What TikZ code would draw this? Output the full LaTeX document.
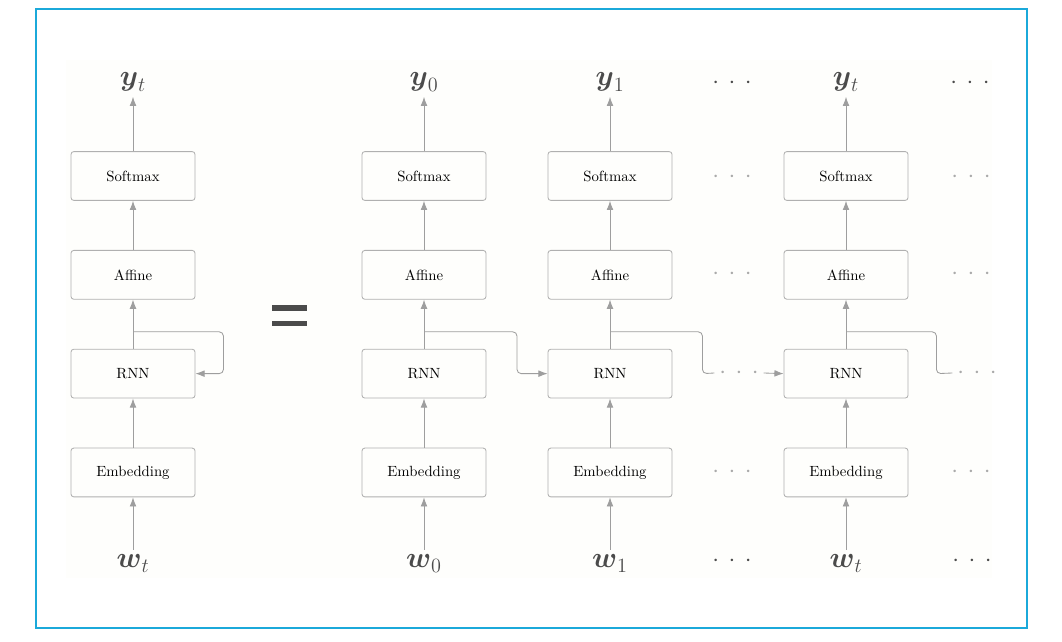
\documentclass[tikz,border=0pt]{standalone}
\usepackage{amsmath,amssymb}
\usepackage{tikz}
\usetikzlibrary{positioning}
\usetikzlibrary{calc}
\usetikzlibrary{arrows.meta}

\definecolor{framec}{RGB}{27,169,218}
\definecolor{linec}{RGB}{158,158,158}
\definecolor{boxc}{RGB}{176,176,176}
\definecolor{labc}{RGB}{75,75,75}
\definecolor{dimc}{RGB}{170,170,170}
\definecolor{bgc}{RGB}{254,254,252}

\newcommand{\gapdots}{$\cdot\hspace{3pt}\cdot\hspace{3pt}\cdot$}

\begin{document}
\begin{tikzpicture}[
    x=0.025cm, y=-0.025cm,  % pixel grid, y grows downwards
    node distance=2.47cm,   % box centre to box centre
    ]
% -------------------------------------------------
\tikzset{
  base/.style={on grid, align=center},
  blk/.style={base, rectangle, draw=boxc, line width=0.6pt, rounded corners=2pt,
              minimum width=3.1cm, minimum height=1.22cm,
              font=\fontsize{10.5}{12}\selectfont, text=black},
  lbl/.style={base, font=\huge, text=labc},
  darkdots/.style={font=\LARGE, text=labc},
  lightdots/.style={font=\LARGE, text=dimc},
  wire/.style={draw=linec, line width=0.6pt, rounded corners=3pt},
  line/.style={wire, -{Latex[length=6.5pt,width=4.8pt]}}
}
% -------------------------------------------------
% Frame and background
\useasboundingbox (0,0) rectangle (1062,642);
\fill [bgc] (66,60) rectangle (992,578);
\draw [framec, line width=1pt] (36,9) rectangle (1027,628);

% -------------------------------------------------
% Folded network

\node [blk] (softL) at (133,176) {Softmax};
\node [blk, below=of softL] (affL) {Affine};
\node [blk, below=of affL] (rnnL) {RNN};
\node [blk, below=of rnnL] (embL) {Embedding};
\node [lbl, above=2.35cm of softL] (yL) {$\boldsymbol{y}_t$};
\node [lbl, below=2.275cm of embL] (wL) {$\boldsymbol{w}_t$};

% equals sign
\fill [labc] (272,305) rectangle (307,311);
\fill [labc] (272,321) rectangle (307,326);

% -------------------------------------------------
% Unfolded network

\node [blk] (soft0) at (424,176) {Softmax};
\node [blk, below=of soft0] (aff0) {Affine};
\node [blk, below=of aff0] (rnn0) {RNN};
\node [blk, below=of rnn0] (emb0) {Embedding};
\node [lbl, above=2.35cm of soft0] (y0) {$\boldsymbol{y}_0$};
\node [lbl, below=2.275cm of emb0] (w0) {$\boldsymbol{w}_0$};

\node [blk] (soft1) at (610,176) {Softmax};
\node [blk, below=of soft1] (aff1) {Affine};
\node [blk, below=of aff1] (rnn1) {RNN};
\node [blk, below=of rnn1] (emb1) {Embedding};
\node [lbl, above=2.35cm of soft1] (y1) {$\boldsymbol{y}_1$};
\node [lbl, below=2.275cm of emb1] (w1) {$\boldsymbol{w}_1$};

\node [blk] (soft3) at (846,176) {Softmax};
\node [blk, below=of soft3] (aff3) {Affine};
\node [blk, below=of aff3] (rnn3) {RNN};
\node [blk, below=of rnn3] (emb3) {Embedding};
\node [lbl, above=2.35cm of soft3] (y3) {$\boldsymbol{y}_t$};
\node [lbl, below=2.275cm of emb3] (w3) {$\boldsymbol{w}_t$};

% ellipses between and after the columns
\node [darkdots] (yD1) at (732,83) {\gapdots};
\node [lightdots] (softD1) at (732,177) {\gapdots};
\node [lightdots] (affD1) at (732,274) {\gapdots};
\node [lightdots] (rnnD1) at (739,373) {\gapdots};
\node [lightdots] (embD1) at (732,472) {\gapdots};
\node [darkdots] (wD1) at (732,561) {\gapdots};

\node [darkdots] (yD2) at (970,83) {\gapdots};
\node [lightdots] (softD2) at (971,177) {\gapdots};
\node [lightdots] (affD2) at (971,274) {\gapdots};
\node [lightdots] (rnnD2) at (977,373) {\gapdots};
\node [lightdots] (embD2) at (971,472) {\gapdots};
\node [darkdots] (wD2) at (972,561) {\gapdots};

% -------------------------------------------------
% Vertical arrows

\path [line] (wL) -- (embL);
\path [line] (embL) -- (rnnL);
\path [line] (rnnL) -- (affL);
\path [line] (affL) -- (softL);
\path [line] (softL) -- (yL);

\path [line] (w0) -- (emb0);
\path [line] (emb0) -- (rnn0);
\path [line] (rnn0) -- (aff0);
\path [line] (aff0) -- (soft0);
\path [line] (soft0) -- (y0);

\path [line] (w1) -- (emb1);
\path [line] (emb1) -- (rnn1);
\path [line] (rnn1) -- (aff1);
\path [line] (aff1) -- (soft1);
\path [line] (soft1) -- (y1);

\path [line] (w3) -- (emb3);
\path [line] (emb3) -- (rnn3);
\path [line] (rnn3) -- (aff3);
\path [line] (aff3) -- (soft3);
\path [line] (soft3) -- (y3);

% -------------------------------------------------
% Hidden state connections

\coordinate (tapL) at ($(rnnL.north)+(0,-17)$);
\coordinate (tap0) at ($(rnn0.north)+(0,-17)$);
\coordinate (tap1) at ($(rnn1.north)+(0,-17)$);
\coordinate (tap3) at ($(rnn3.north)+(0,-17)$);

\path [line] (tapL) -| ($(rnnL.east)+(28,0)$) -- (rnnL.east);
\path [line] (tap0) -| ($(rnn0.east)!.5!(rnn1.west)$) -- (rnn1.west);
\path [wire] (tap1) -| ($(rnn1.east)+(30,0)$) -- (rnnD1.west);
\path [line] (rnnD1.east) -- (rnn3.west);
\path [wire] (tap3) -| ($(rnn3.east)+(28,0)$) -- (rnnD2.west);

\end{tikzpicture}
\end{document}
